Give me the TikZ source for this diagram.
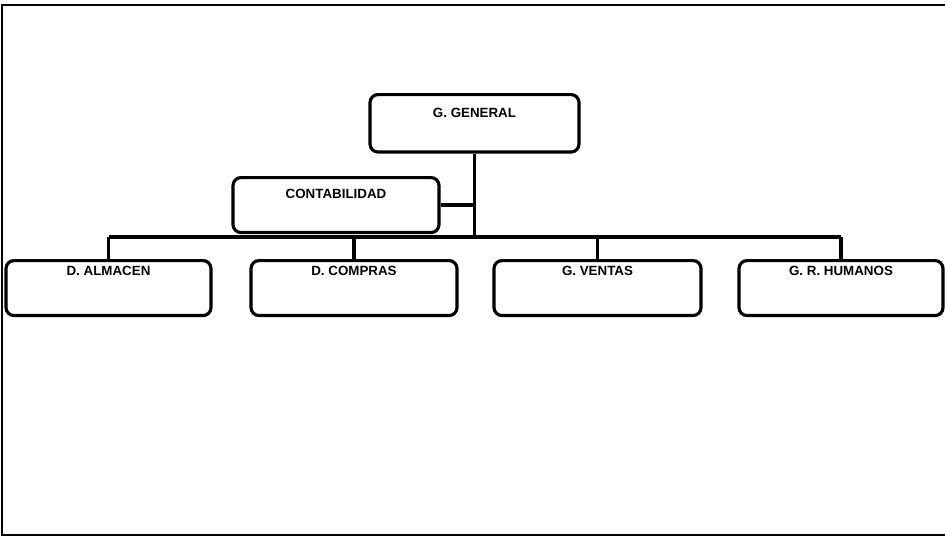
\documentclass[tikz,border=0pt]{standalone}
\usepackage{fontspec}
\setmainfont{Liberation Sans}
\usetikzlibrary{calc}

\begin{document}
\begin{tikzpicture}[
  x=0.02cm, y=-0.02cm,
  font=\fontsize{7.6}{9}\selectfont\bfseries,
  unit/.style={draw, line width=1.8pt, rounded corners=0.16cm, inner sep=0pt,
    anchor=north, align=center, text height=0.29cm, text depth=0.81cm},
  link/.style={line width=2pt},
  frame/.style={line width=1pt}
]
\useasboundingbox (0,0) rectangle (945,537);

% outer frame, open on the right
\draw[frame] (945,5) -- (2,5) -- (2,535) -- (945,535);

% top of the chart
\node[unit, minimum width=0.02cm*209, text height=0.45cm, text depth=0.70cm] (gen) at (474.5,93) {G. GENERAL};
\node[unit, minimum width=0.02cm*206, text height=0.41cm, text depth=0.69cm] (cont) at (336,176) {CONTABILIDAD};

% the four departments
\node[unit, minimum width=0.02cm*205] (alm)  at (108.5,259) {D. ALMACEN};
\node[unit, minimum width=0.02cm*206] (comp) at (354,259)   {D. COMPRAS};
\node[unit, minimum width=0.02cm*207] (vent) at (597.5,259) {G. VENTAS};
\node[unit, minimum width=0.02cm*204] (hum)  at (841,259)   {G. R. HUMANOS};

% bus joining everything
\coordinate (bus) at (475,237);
\draw[link] (gen.south) -- (gen.south |- bus);
\draw[link] (cont.east) -- (cont.east -| bus);
\draw[link] (alm.north |- bus) -- (hum.north |- bus);
\foreach \d in {alm,comp,vent,hum}
  \draw[link] (\d.north) -- (\d.north |- bus);

\end{tikzpicture}
\end{document}
